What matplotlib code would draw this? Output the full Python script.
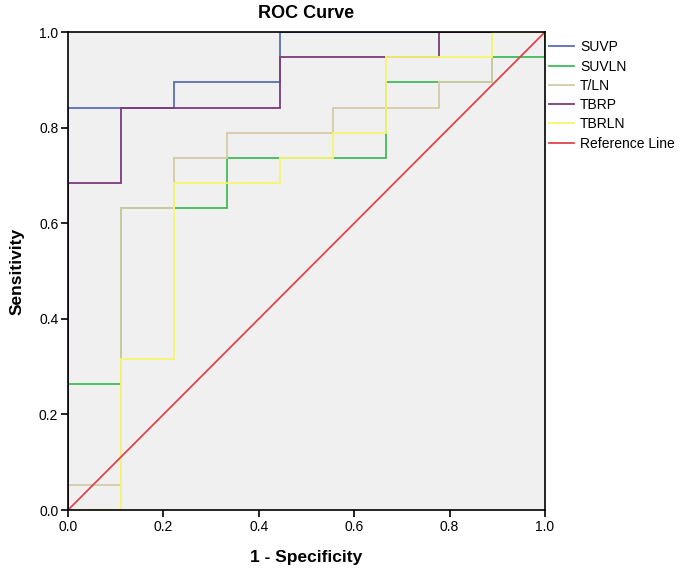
import matplotlib
matplotlib.use("Agg")
import matplotlib.pyplot as plt

plt.rcParams['font.family'] = ['Liberation Sans', 'DejaVu Sans']

# ROC step curves (1 - specificity, sensitivity)
suvp_x = [0, 0, 0.222, 0.222, 0.444, 0.444, 1.0]
suvp_y = [0, 0.842, 0.842, 0.895, 0.895, 1.0, 1.0]

suvln_x = [0, 0, 0.111, 0.111, 0.333, 0.333, 0.667, 0.667, 0.889, 0.889, 1.0, 1.0]
suvln_y = [0, 0.263, 0.263, 0.632, 0.632, 0.737, 0.737, 0.895, 0.895, 0.947, 0.947, 1.0]

tln_x = [0, 0, 0.111, 0.111, 0.222, 0.222, 0.333, 0.333, 0.556, 0.556, 0.778, 0.778, 0.889, 0.889, 1.0]
tln_y = [0, 0.053, 0.053, 0.632, 0.632, 0.737, 0.737, 0.789, 0.789, 0.842, 0.842, 0.895, 0.895, 1.0, 1.0]

tbrp_x = [0, 0, 0.111, 0.111, 0.444, 0.444, 0.778, 0.778, 1.0]
tbrp_y = [0, 0.684, 0.684, 0.842, 0.842, 0.947, 0.947, 1.0, 1.0]

tbrln_x = [0, 0.111, 0.111, 0.222, 0.222, 0.444, 0.444, 0.556, 0.556, 0.667, 0.667, 0.889, 0.889, 1.0]
tbrln_y = [0, 0, 0.316, 0.316, 0.684, 0.684, 0.737, 0.737, 0.789, 0.789, 0.947, 0.947, 1.0, 1.0]

ref_x = [0, 1]
ref_y = [0, 1]

series = [
    ("SUVP", suvp_x, suvp_y, "#5a6db3"),
    ("SUVLN", suvln_x, suvln_y, "#45b95a"),
    ("T/LN", tln_x, tln_y, "#d3cca6"),
    ("TBRP", tbrp_x, tbrp_y, "#7b3b7c"),
    ("TBRLN", tbrln_x, tbrln_y, "#f6f66e"),
    ("Reference Line", ref_x, ref_y, "#e0454c"),
]

fig = plt.figure(figsize=(6.85, 5.78), dpi=100)
ax = fig.add_axes([0.0993, 0.1176, 0.6963, 0.827])
ax.set_facecolor("#f0f0f0")

for name, xs, ys, c in series:
    ax.plot(xs, ys, color=c, lw=1.3, label=name, solid_joinstyle="miter")

ax.set_xlim(0, 1)
ax.set_ylim(0, 1)
ticks = [0.0, 0.2, 0.4, 0.6, 0.8, 1.0]
ax.set_xticks(ticks)
ax.set_yticks(ticks)
ax.set_xticklabels([f"{t:.1f}" for t in ticks])
ax.set_yticklabels([f"{t:.1f}" for t in ticks])
ax.tick_params(direction="out", length=5, width=1.2, labelsize=10, colors="black", pad=2)
for s in ax.spines.values():
    s.set_linewidth(1.2)

ax.set_title("ROC Curve", fontsize=13, fontweight="bold", pad=10)
ax.set_xlabel("1 - Specificity", fontsize=12.5, fontweight="bold", labelpad=12)
ax.set_ylabel("Sensitivity", fontsize=12.5, fontweight="bold", labelpad=10)

fig.legend(loc="upper left", bbox_to_anchor=(0.793, 0.94), frameon=False,
           fontsize=10, handlelength=1.8, handletextpad=0.45, labelspacing=0.38,
           borderaxespad=0)

fig.savefig("out.png", dpi=100)
